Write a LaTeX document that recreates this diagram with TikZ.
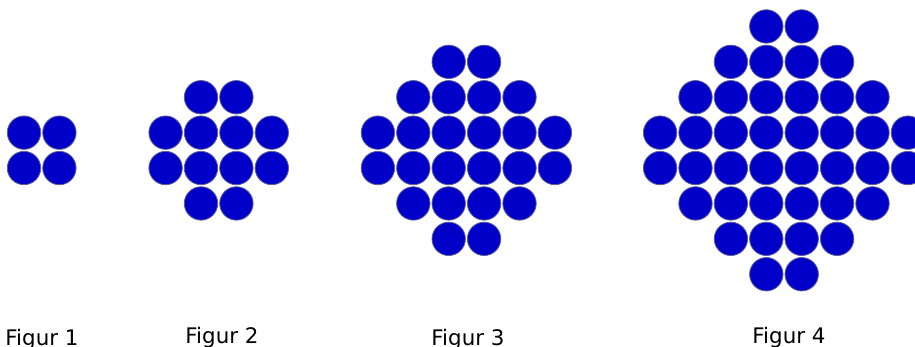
\documentclass[tikz,border=0pt]{standalone}
\usepackage{fontspec}
\setmainfont{DejaVu Sans}
\definecolor{dotblue}{RGB}{0,0,200}
\definecolor{dotrim}{RGB}{95,95,150}
\newcommand\dotfig[4]{%
  \foreach \n [count=\r] in {#4} {
    \foreach \c in {1,...,\n} {
      \node[dot] (#1-\r-\c) at ({#2+(\c-(\n+1)/2)*35.4}, {150.35+(\r-(#3+1)/2)*35.4}) {};
    }
  }}
\begin{document}
\begin{tikzpicture}[x=1pt,y=-1pt,
  dot/.style={circle, fill=dotblue, draw=dotrim, line width=0.8pt, minimum size=33.4pt, inner sep=0pt},
  lab/.style={anchor=base, font=\fontsize{21.4}{24}\selectfont, inner sep=0pt, text=black}]
\useasboundingbox (0,0) rectangle (915,347);
\dotfig{a}{41.7}{2}{2,2}
\dotfig{b}{218.7}{4}{2,4,4,2}
\dotfig{c}{466.4}{6}{2,4,6,6,4,2}
\dotfig{d}{784}{8}{2,4,6,8,8,6,4,2}
\node[lab] (lab1) at (42,345) {Figur 1};
\node[lab] (lab2) at (222,343.3) {Figur 2};
\node[lab] (lab3) at (468,345.7) {Figur 3};
\node[lab] (lab4) at (789,343) {Figur 4};
\end{tikzpicture}
\end{document}
